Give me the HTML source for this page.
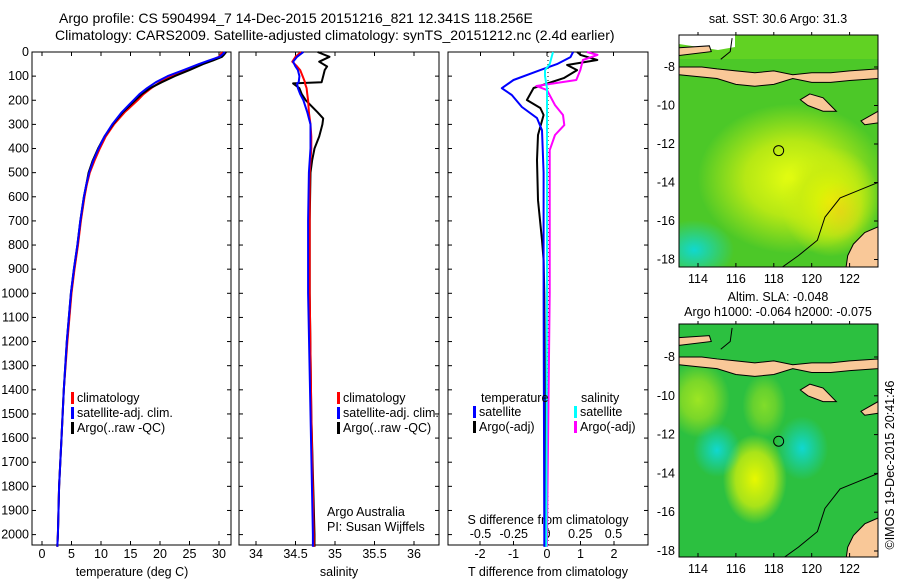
<!DOCTYPE html>
<html><head><meta charset="utf-8">
<style>
body{margin:0;background:#fff;}
svg{display:block;font-family:"Liberation Sans",sans-serif;}
text{font-size:12.5px;fill:#000;}
</style></head>
<body>
<svg id="c" width="900" height="580" viewBox="0 0 900 580">
<defs>
<radialGradient id="yb" cx="50%" cy="50%" r="50%"><stop offset="0" stop-color="#e8ff10"/><stop offset="0.5" stop-color="#d0f010" stop-opacity="0.8"/><stop offset="1" stop-color="#d0f010" stop-opacity="0"/></radialGradient>
<radialGradient id="cb" cx="50%" cy="50%" r="50%"><stop offset="0" stop-color="#10d8d0"/><stop offset="1" stop-color="#10d8d0" stop-opacity="0"/></radialGradient>
<radialGradient id="yb2" cx="50%" cy="50%" r="50%"><stop offset="0" stop-color="#e8f800"/><stop offset="0.6" stop-color="#c8ec10" stop-opacity="0.8"/><stop offset="1" stop-color="#c8ec10" stop-opacity="0"/></radialGradient>
<radialGradient id="ob" cx="50%" cy="50%" r="50%"><stop offset="0" stop-color="#f0c020"/><stop offset="1" stop-color="#f0c020" stop-opacity="0"/></radialGradient>
<clipPath id="m1c"><rect x="679" y="35" width="199" height="232"/></clipPath>
<clipPath id="m2c"><rect x="679" y="324" width="199" height="233"/></clipPath>
</defs>
<text x="59" y="23" style="font-size:14px">Argo profile: CS 5904994_7 14-Dec-2015 20151216_821 12.341S 118.256E</text>
<text x="55" y="40" style="font-size:14px">Climatology: CARS2009. Satellite-adjusted climatology: synTS_20151212.nc (2.4d earlier)</text>
<g id="g"></g>
</svg>
<script>
// ---- data ----
const tDepth = [0,10,20,35,50,75,100,125,150,175,200,250,300,350,400,450,500,550,600,700,800,900,1000,1200,1400,1600,1800,2000,2050];
const tArgo  = [31.2,30.9,30.5,29.0,27.3,25.0,22.5,20.3,18.3,16.9,15.8,13.7,12.0,10.6,9.5,8.6,7.9,7.5,7.1,6.5,6.0,5.4,4.9,4.2,3.7,3.3,2.9,2.7,2.6];
const tClim  = [30.5,30.3,30.0,28.6,27.0,24.5,22.0,20.0,18.5,17.2,16.2,14.0,12.2,10.8,9.8,8.9,8.1,7.6,7.2,6.6,6.1,5.5,5.0,4.3,3.7,3.3,2.9,2.7,2.6];
const tSat   = [31.0,30.6,30.1,28.3,26.6,24.0,21.3,19.3,17.8,16.5,15.5,13.5,11.9,10.6,9.6,8.7,8.0,7.5,7.1,6.5,6.0,5.4,4.9,4.2,3.7,3.3,2.9,2.7,2.6];
const sDepth = [0,20,40,60,75,100,125,130,150,175,200,250,275,300,350,400,450,500,700,1000,1500,2000,2050];
const sArgo  = [34.78,34.93,34.80,34.90,34.87,34.85,34.83,34.47,34.55,34.58,34.63,34.78,34.85,34.84,34.80,34.74,34.71,34.69,34.68,34.68,34.70,34.74,34.74];
const sClim  = [34.57,34.50,34.46,34.52,34.56,34.59,34.62,34.62,34.64,34.65,34.66,34.67,34.68,34.69,34.70,34.70,34.69,34.68,34.68,34.68,34.70,34.73,34.73];
const sSat   = [34.60,34.52,34.47,34.50,34.53,34.55,34.54,34.52,34.53,34.56,34.60,34.65,34.67,34.69,34.69,34.69,34.68,34.67,34.66,34.66,34.69,34.72,34.72];
const dtSatDepth = [0,21,50,75,116,150,178,228,274,324,500,1000,2000,2050];
const dtSat      = [0.78,0.7,0.3,-0.2,-1.0,-1.35,-1.05,-0.75,-0.3,-0.15,-0.1,-0.1,-0.08,-0.08];
const dtArgoDepth = [0,12,33,54,75,108,149,199,232,261,344,448,614,780,863,1000,1500,2000,2050];
const dtArgo      = [0.9,1.0,1.5,0.6,0.9,0.5,-0.4,-0.6,-0.2,-0.1,-0.27,-0.3,-0.27,-0.15,-0.1,-0.08,-0.06,-0.05,-0.05];
const dsArgoDepth = [0,12,33,75,116,141,158,220,261,303,344,407,490,1000,2000,2050];
const dsArgo      = [0.3,0.38,0.27,0.25,0.22,-0.08,0.0,0.06,0.12,0.13,0.06,0.02,0.02,0.02,0.0,0.0];
const dsSatDepth = [0,50,75,100,150,300,1000,2000,2050];
const dsSat      = [0.045,0.02,-0.015,-0.015,0.0,0.0,0.0,-0.005,-0.005];
const depthTicks = [0,100,200,300,400,500,600,700,800,900,1000,1100,1200,1300,1400,1500,1600,1700,1800,1900,2000];
const tTicks = [0,5,10,15,20,25,30];
const sTicks = [34,34.5,35,35.5,36];
const dtTicks = [-2,-1,0,1,2];
const dsTicks = [-0.5,-0.25,0,0.25,0.5];
const dsTickLabels = ['-0.5','-0.25','0','0.25','0.5'];
const lonTicks = [114,116,118,120,122];
const latTicks = [-8,-10,-12,-14,-16,-18];

const NS='http://www.w3.org/2000/svg';
const G=document.getElementById('g');
function el(tag,attrs,parent){const e=document.createElementNS(NS,tag);for(const k in attrs)e.setAttribute(k,attrs[k]);(parent||G).appendChild(e);return e;}
function txt(x,y,s,anchor,parent){const e=el('text',{x:x,y:y,'text-anchor':anchor||'start'},parent);e.textContent=s;return e;}
const yD=d=>52+d*0.2413;
const xT=v=>42+v*5.9;
const xS=v=>256+(v-34)*79;
const xDT=v=>547+v*33.5;
const xDS=v=>547+v*133;

function panel(x0,x1,name){const r=el('rect',{x:x0,y:52,width:x1-x0,height:493,fill:'none',stroke:'#000','stroke-width':1});


depthTicks.forEach(d=>{el('line',{x1:x0,x2:x0+4,y1:yD(d),y2:yD(d),stroke:'#000'});el('line',{x1:x1,x2:x1-4,y1:yD(d),y2:yD(d),stroke:'#000'});});}
function line(xs,ds,fx,color,name){const p=xs.map((v,i)=>fx(v).toFixed(1)+','+yD(ds[i]).toFixed(1)).join(' ');
const e=el('polyline',{points:p,fill:'none',stroke:color,'stroke-width':2,'stroke-linejoin':'round'});

}
function xticks(ticks,labels,fx,y,top){ticks.forEach((t,i)=>{el('line',{x1:fx(t),x2:fx(t),y1:545,y2:541,stroke:'#000'});if(top)el('line',{x1:fx(t),x2:fx(t),y1:52,y2:56,stroke:'#000'});const e=txt(fx(t),y,labels[i],'middle');});}

// panel 1
panel(32,231,'temperature-panel');
depthTicks.forEach(d=>{const e=txt(29,yD(d)+4,String(d),'end');});
xticks(tTicks,tTicks.map(String),xT,558,true);
{const e=txt(132,576,'temperature (deg C)','middle');}
line(tClim,tDepth,xT,'#f00','temp-climatology');
line(tArgo,tDepth,xT,'#000','temp-argo');
line(tSat,tDepth,xT,'#00f','temp-satellite');
// panel 2
panel(239,439,'salinity-panel');
xticks(sTicks,sTicks.map(String),xS,558,true);
{const e=txt(339,576,'salinity','middle');}
line(sArgo,sDepth,xS,'#000','sal-argo');
line(sClim,sDepth,xS,'#f00','sal-climatology');
line(sSat,sDepth,xS,'#00f','sal-satellite');
txt(327,516,'Argo Australia');txt(327,531,'PI: Susan Wijffels');
// legends
function legend(x,y,items,name){items.forEach((it,i)=>{const yy=y+i*15;el('rect',{x:x,y:yy-10,width:3,height:12,fill:it[1]});const e=txt(x+6,yy,it[0]);});}
const legItems=[['climatology','#f00'],['satellite-adj. clim.','#00f'],['Argo(..raw -QC)','#000']];
legend(71,402,legItems,'temp-legend');
legend(337,402,legItems,'sal-legend');
// panel 3
panel(448,648,'difference-panel');
el('line',{x1:548,x2:548,y1:52,y2:545,stroke:'#000','stroke-dasharray':'1,3'});
xticks(dtTicks,dtTicks.map(String),xDT,558,false);
dsTicks.forEach((t,i)=>{el('line',{x1:xDS(t),x2:xDS(t),y1:52,y2:56,stroke:'#000'});txt(xDS(t),538,dsTickLabels[i],'middle');});
txt(548,524,'S difference from climatology','middle');
txt(548,576,'T difference from climatology','middle');
line(dtArgo,dtArgoDepth,xDT,'#000','dt-argo');
line(dsArgo,dsArgoDepth,xDS,'#f0f','ds-argo');
line(dtSat,dtSatDepth,xDT,'#00f','dt-satellite');
line(dsSat,dsSatDepth,xDS,'#0ff','ds-satellite');
txt(481,402,'temperature');txt(581,402,'salinity');
legend(473,416,[['satellite','#00f'],['Argo(-adj)','#000']],'dt-legend');
legend(574,416,[['satellite','#0ff'],['Argo(-adj)','#f0f']],'ds-legend');

// maps
function map(y0,h,latm8,clip,kind,name){
 const lx=l=>698+(l-114)*18.95, ly=l=>latm8+(-8-l)*(kind==1?19.25:19.4);
 const g=el('g',{'clip-path':'url(#'+clip+')'});
 
 
 if(kind==1){
  el('rect',{x:679,y:y0,width:199,height:h,fill:'#4cc828'},g);
  el('ellipse',{cx:lx(119),cy:ly(-13.8),rx:95,ry:75,fill:'url(#yb)'},g);
  el('ellipse',{cx:lx(121),cy:ly(-15),rx:50,ry:55,fill:'url(#yb2)'},g);
  el('ellipse',{cx:lx(121.5),cy:ly(-15.5),rx:25,ry:30,fill:'url(#ob)',opacity:0.5},g);
  el('ellipse',{cx:lx(113.8),cy:ly(-17.5),rx:40,ry:30,fill:'url(#cb)'},g);
  el('rect',{x:679,y:y0,width:199,height:24,fill:'#70d820',opacity:0.6},g);
  el('polygon',{points:'679,35 735,35 735,47 718,50 679,44',fill:'#fff'},g);
 } else {
  el('rect',{x:679,y:y0,width:199,height:h,fill:'#2cc040'},g);
  el('ellipse',{cx:lx(117),cy:ly(-14.3),rx:32,ry:45,fill:'url(#yb2)'},g);
  el('ellipse',{cx:lx(114),cy:ly(-10.2),rx:32,ry:38,fill:'url(#yb)',opacity:0.6},g);
  el('ellipse',{cx:lx(117.5),cy:ly(-10.5),rx:22,ry:32,fill:'url(#yb)',opacity:0.45},g);
  el('ellipse',{cx:lx(115),cy:ly(-12.8),rx:24,ry:27,fill:'url(#cb)'},g);
  el('ellipse',{cx:lx(119.5),cy:ly(-12.7),rx:26,ry:32,fill:'url(#cb)'},g);
 }
 const land='#f9c898';
 const polys=[
  [[113,-8.0],[114.2,-8.0],[115,-8.1],[116,-8.2],[117,-8.3],[118,-8.2],[119,-8.4],[120,-8.3],[121,-8.3],[122,-8.2],[123.5,-8.1],[123.5,-8.6],[122,-8.7],[121,-8.8],[120,-8.8],[119,-8.6],[118,-8.9],[117,-9.0],[116,-8.9],[115,-8.6],[114,-8.5],[113,-8.4]],
  [[119.9,-9.4],[120.6,-9.6],[121.0,-10.0],[121.3,-10.3],[120.6,-10.3],[119.8,-10.0],[119.4,-9.7]],
  [[122.6,-10.8],[123.5,-10.3],[123.5,-10.9],[122.8,-11.0]],
  [[123.5,-16.3],[122.8,-16.6],[122.2,-17.2],[121.9,-17.8],[121.8,-18.5],[123.5,-18.5]],
  [[113,-7.0],[114.6,-6.9],[114.7,-7.2],[113,-7.4]]
 ];
 polys.forEach(p=>el('polygon',{points:p.map(q=>lx(q[0])+','+ly(q[1])).join(' '),fill:land,stroke:'#000','stroke-width':1},g));
 el('polyline',{points:[[123.5,-14],[122.5,-14.4],[121.5,-14.8],[120.7,-15.8],[120.3,-17],[119.3,-17.8],[118.3,-18.5]].map(q=>lx(q[0])+','+ly(q[1])).join(' '),fill:'none',stroke:'#000','stroke-width':1},g);
 el('polyline',{points:[[115.8,-6.5],[115.7,-7.2],[115.2,-7.6]].map(q=>lx(q[0])+','+ly(q[1])).join(' '),fill:'none',stroke:'#000'},g);
 el('circle',{cx:lx(118.256),cy:ly(-12.341),r:5,fill:'none',stroke:'#000'},g);
 el('rect',{x:679,y:y0,width:199,height:h,fill:'none',stroke:'#000'});
 lonTicks.forEach(l=>{el('line',{x1:lx(l),x2:lx(l),y1:y0+h,y2:y0+h-4,stroke:'#000'});el('line',{x1:lx(l),x2:lx(l),y1:y0,y2:y0-3,stroke:'#000'});txt(lx(l),y0+h+16,String(l),'middle');});
 latTicks.forEach(l=>{el('line',{x1:878,x2:874,y1:ly(l),y2:ly(l),stroke:'#000'});txt(675,ly(l)+4,String(l),'end');});
}
map(35,232,67,'m1c',1,'sst-map');
map(324,233,357,'m2c',2,'sla-map');
txt(778,23,'sat. SST: 30.6  Argo: 31.3','middle');
txt(778,301,'Altim. SLA: -0.048','middle');
txt(778,316,'Argo h1000: -0.064  h2000: -0.075','middle');
const cr=txt(0,0,'©IMOS 19-Dec-2015 20:41:46','middle');
cr.setAttribute('transform','translate(894,465) rotate(-90)');


</script>
</body></html>
